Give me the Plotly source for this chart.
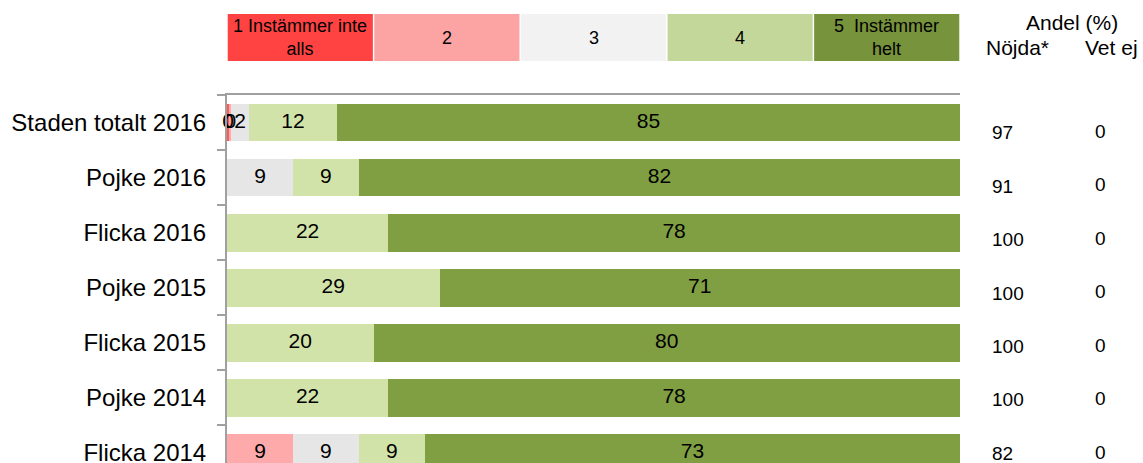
import plotly.graph_objects as go

categories = ["Staden totalt 2016", "Pojke 2016", "Flicka 2016", "Pojke 2015",
              "Flicka 2015", "Pojke 2014", "Flicka 2014"]
legend_names = ["1 Instämmer inte<br>alls", "2", "3", "4", "5  Instämmer<br>helt"]

s1 = [0.3, 0, 0, 0, 0, 0, 0]
s2 = [0.3, 0, 0, 0, 0, 0, 9]
s3 = [2.4, 9, 0, 0, 0, 0, 9]
s4 = [12, 9, 22, 29, 20, 22, 9]
s5 = [85, 82, 78, 71, 80, 78, 73]
s1_lbl = ["0", "", "", "", "", "", ""]
s2_lbl = ["0", "", "", "", "", "", "9"]
s3_lbl = ["2", "9", "", "", "", "", "9"]
s4_lbl = ["12", "9", "22", "29", "20", "22", "9"]
s5_lbl = ["85", "82", "78", "71", "80", "78", "73"]

nojda = [97, 91, 100, 100, 100, 100, 82]
vet_ej = [0, 0, 0, 0, 0, 0, 0]

bar_colors = ["#FF5A5A", "#FFAAAA", "#E6E6E6", "#D1E3A9", "#809F43"]
legend_colors = ["#FF4343", "#FCA3A3", "#F2F2F2", "#C4D79B", "#77933C"]

FONT = "Liberation Sans, Arial, sans-serif"

fig = go.Figure()
series = [s1, s2, s3, s4, s5]
labels = [s1_lbl, s2_lbl, s3_lbl, s4_lbl, s5_lbl]
for vals, col in zip(series, bar_colors):
    fig.add_trace(go.Bar(
        y=categories, x=vals, orientation="h",
        marker=dict(color=col, line=dict(width=0)),
        cliponaxis=False, showlegend=False, hoverinfo="skip",
    ))

# labels on top of all bars, at the middle of each segment
cum = [0.0] * len(categories)
tx, ty, tt = [], [], []
for vals, lbl in zip(series, labels):
    for j, (v, t) in enumerate(zip(vals, lbl)):
        if t:
            tx.append(cum[j] + v / 2)
            ty.append(categories[j])
            tt.append(t)
        cum[j] += v
fig.add_trace(go.Scatter(
    x=tx, y=ty, text=tt, mode="text", textposition="middle center",
    textfont=dict(family=FONT, size=21, color="black"),
    cliponaxis=False, showlegend=False, hoverinfo="skip",
))

shapes = []
annotations = []
for i, (name, col) in enumerate(zip(legend_names, legend_colors)):
    shapes.append(dict(type="rect", xref="x domain", yref="paper",
                       x0=i / 5 + 0.001, x1=(i + 1) / 5 - 0.001,
                       y0=1.0924, y1=1.220, fillcolor=col, line=dict(width=0)))
    annotations.append(dict(xref="x domain", yref="paper", x=(i + 0.5) / 5,
                            y=1.156, text=name, showarrow=False,
                            font=dict(family=FONT, size=18, color="black"),
                            xanchor="center", yanchor="middle"))

for txt, x, y in [("Andel (%)", 1.153, 1.198), ("Nöjda*", 1.079, 1.130),
                  ("Vet ej", 1.207, 1.130)]:
    annotations.append(dict(xref="paper", yref="paper", x=x, y=y, text=txt,
                            showarrow=False, xanchor="center", yanchor="middle",
                            font=dict(family=FONT, size=21, color="black")))

for i, (n, v) in enumerate(zip(nojda, vet_ej)):
    annotations.append(dict(xref="paper", yref="y", x=1.041, y=0.19 + i * 0.97,
                            text=str(n), showarrow=False, xanchor="left",
                            yanchor="middle",
                            font=dict(family=FONT, size=19, color="black")))
    annotations.append(dict(xref="paper", yref="y", x=1.191, y=0.155 + i * 0.974,
                            text=str(v), showarrow=False, xanchor="center",
                            yanchor="middle",
                            font=dict(family=FONT, size=19, color="black")))

fig.update_layout(
    barmode="stack",
    bargap=0.31,
    width=1143, height=463,
    margin=dict(l=227, r=183, t=95, b=0),
    paper_bgcolor="white", plot_bgcolor="white",
    shapes=shapes, annotations=annotations,
    xaxis=dict(range=[0, 100], side="top", showline=True, linecolor="#A0A0A0",
               linewidth=2, showticklabels=False, showgrid=False, zeroline=False,
               ticks="", fixedrange=True),
    yaxis=dict(categoryorder="array", categoryarray=categories,
               range=[6.19, -0.5], autorange=False, automargin=False,
               showline=True, linecolor="#A0A0A0", linewidth=2,
               ticks="outside", tickson="boundaries", ticklen=8, tickcolor="#A0A0A0",
               tickwidth=2, showgrid=False, zeroline=False, ticklabelstandoff=14,
               tickfont=dict(family=FONT, size=24, color="black")),
)

fig.write_html("out.html", config={"displayModeBar": False},
               post_script="document.body.style.margin='0';")
